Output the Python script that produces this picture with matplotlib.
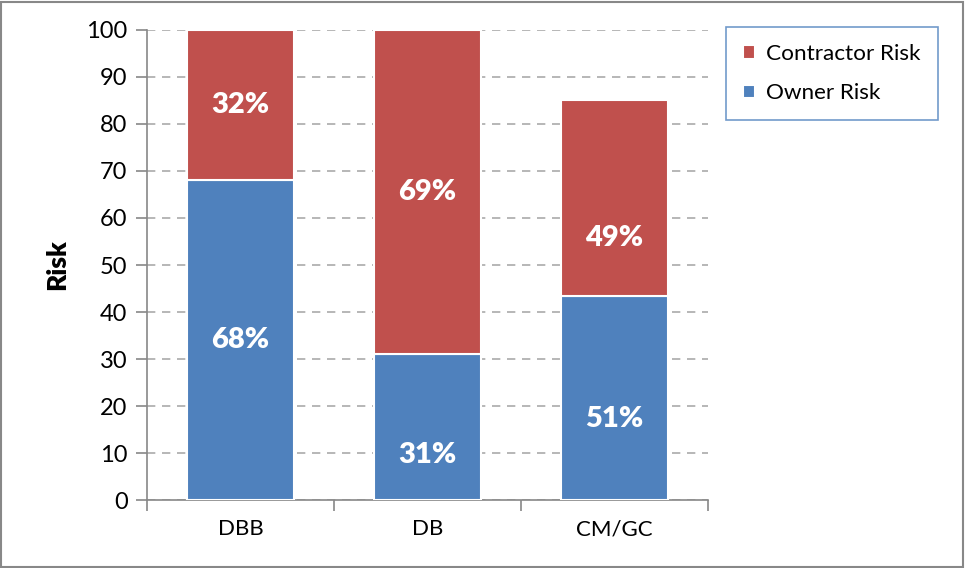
import matplotlib.pyplot as plt
from matplotlib.patches import Rectangle
import numpy as np

plt.rcParams['font.family'] = ['Lato', 'DejaVu Sans']

# Risk allocation by delivery method (owner + contractor shares)
methods = ['DBB', 'DB', 'CM/GC']
totals = [100, 100, 85]
owner_pct = [68, 31, 51]
contractor_pct = [32, 69, 49]

owner = [t * p / 100 for t, p in zip(totals, owner_pct)]
contractor = [t * p / 100 for t, p in zip(totals, contractor_pct)]

blue = '#4F81BD'
red = '#C0504D'

fig = plt.figure(figsize=(9.65, 5.68), dpi=100)
ax = fig.add_axes([0.1523, 0.1197, 0.5814, 0.8275])

x = np.arange(len(methods))
b1 = ax.bar(x, owner, width=0.57, color=blue, edgecolor='white', linewidth=1.5,
            label='Owner Risk', zorder=3)
b2 = ax.bar(x, contractor, width=0.57, bottom=owner, color=red, edgecolor='white',
            linewidth=1.5, label='Contractor Risk', zorder=3)

# label positions inside each segment (fraction of segment height)
own_pos = [0.5, 0.31, 0.40]
con_pos = [0.5, 0.5, 0.30]
for i in range(len(methods)):
    ax.text(x[i], owner[i] * own_pos[i], f'{owner_pct[i]}%', ha='center', va='center',
            color='white', fontsize=21, fontweight='heavy', zorder=4)
    ax.text(x[i], owner[i] + contractor[i] * con_pos[i], f'{contractor_pct[i]}%',
            ha='center', va='center', color='white', fontsize=21, fontweight='heavy', zorder=4)

ax.set_xlim(-0.5, len(methods) - 0.5)
ax.set_ylim(0, 100)
ax.set_yticks(range(0, 101, 10))
ax.set_xticks(x)
ax.set_xticklabels(methods)
ax.set_xticks(np.arange(-0.5, len(methods)), minor=True)
ax.tick_params(axis='x', which='major', length=0, pad=14, labelsize=16)
ax.tick_params(axis='x', which='minor', length=8, color='#888888', width=1.2)
ax.tick_params(axis='y', length=8, color='#888888', width=1.2, labelsize=17, pad=6)

ax.grid(axis='y', linestyle=(0, (5, 4)), color='#AAAAAA', linewidth=1.2, zorder=0)
for s in ['top', 'right']:
    ax.spines[s].set_visible(False)
for s in ['left', 'bottom']:
    ax.spines[s].set_color('#888888')
    ax.spines[s].set_linewidth(1.2)

ax.set_ylabel('Risk', fontsize=19, fontweight='heavy', labelpad=12)

leg = fig.legend(handles=[b2, b1], labels=['Contractor Risk', 'Owner Risk'],
                 loc='upper left', bbox_to_anchor=(0.752, 0.952), fontsize=16.2,
                 frameon=True, fancybox=False, handlelength=0.55, handleheight=0.55,
                 labelspacing=0.85, borderpad=0.75, handletextpad=0.5, borderaxespad=0)
leg.get_frame().set_edgecolor(blue)
leg.get_frame().set_linewidth(1.2)

# outer border
fig.patches.append(Rectangle((0.001, 0.001), 0.997, 0.996, transform=fig.transFigure,
                             fill=False, edgecolor='#888888', linewidth=1.5))

fig.savefig('out.png', dpi=100)
